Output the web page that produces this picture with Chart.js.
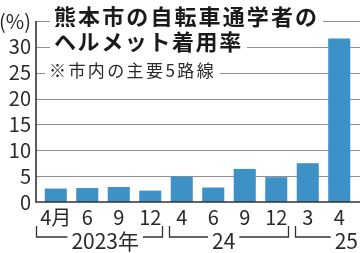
<!DOCTYPE html>
<html lang="ja">
<head>
<meta charset="utf-8">
<script src="https://cdn.jsdelivr.net/npm/chart.js@4/dist/chart.umd.min.js"></script>
<style>
  html, body { margin: 0; padding: 0; background: #fff; }
  #wrap { position: relative; width: 360px; height: 253px; overflow: hidden; }
  canvas { position: absolute; left: 0; top: 0; }
  .t { position: absolute; background: #fff; color: #1a1a1a; white-space: nowrap;
       font-family: "Noto Sans CJK JP", sans-serif; padding: 0 4px; }
  #t1 { left: 50px; top: 2px; font-size: 22px; line-height: 26px; font-weight: 700; letter-spacing: 2.1px; }
  #t2 { left: 50px; top: 27px; font-size: 22px; line-height: 26px; font-weight: 700; letter-spacing: 1.6px; }
  #t3 { left: 45px; top: 59px; font-size: 17px; line-height: 22px; font-weight: 400; letter-spacing: 2.4px; color: #2a2a2a; }
</style>
</head>
<body>
<div id="wrap">
  <canvas id="c" width="360" height="253"></canvas>
  <div class="t" id="t1">熊本市の自転車通学者の</div>
  <div class="t" id="t2">ヘルメット着用率</div>
  <div class="t" id="t3">※市内の主要5路線</div>
</div>
<script>
// ---- data ----
const categories = ["4月", "6", "9", "12", "4", "6", "9", "12", "3", "4"];
const helmetRate = [2.6, 2.7, 2.9, 2.2, 4.9, 2.8, 6.4, 4.8, 7.5, 31.6];
const yearLabels = ["2023年", "24", "25"];
const yearStartIndex = [0, 4, 8];
const yTicks = [0, 5, 10, 15, 20, 25, 30, 35];
const yTopLabel = "(%)";

const FONT = '"Noto Sans CJK JP", sans-serif';
const BAR = '#3d91c6';
const GRID = '#8f8f8f';
const AXIS = '#333333';
const TXT = '#2a2a2a';

const framePlugin = {
  id: 'frame',
  beforeDatasetsDraw(chart) {
    const { ctx, chartArea, scales: { y } } = chart;
    const axisX = chartArea.left - 4;
    ctx.save();
    ctx.strokeStyle = GRID;
    ctx.lineWidth = 1;
    yTicks.forEach(v => {
      if (v === 0) return;
      const py = Math.round(y.getPixelForValue(v)) + 0.5;
      ctx.beginPath();
      ctx.moveTo(axisX, py);
      ctx.lineTo(360, py);
      ctx.stroke();
    });
    ctx.restore();
  },
  afterDatasetsDraw(chart) {
    const { ctx, chartArea, scales: { x, y } } = chart;
    const axisX = chartArea.left - 4;
    const y0 = y.getPixelForValue(0);
    const yTop = y.getPixelForValue(35);
    ctx.save();
    ctx.strokeStyle = AXIS;
    ctx.lineWidth = 1.6;
    ctx.beginPath();
    ctx.moveTo(axisX, yTop);
    ctx.lineTo(axisX, y0);
    ctx.lineTo(360, y0);
    ctx.stroke();

    // year group brackets
    const half = (x.getPixelForValue(1) - x.getPixelForValue(0)) / 2;
    const anchors = [1.57, 5.33, 9.25];
    const vTop = y0 + 24, hY = y0 + 35, textY = y0 + 39;
    ctx.font = '21px ' + FONT;
    ctx.textBaseline = 'middle';
    ctx.fillStyle = TXT;
    ctx.lineWidth = 1.3;
    ctx.strokeStyle = '#333';
    yearLabels.forEach((lab, g) => {
      const s = yearStartIndex[g];
      const e = g + 1 < yearStartIndex.length ? yearStartIndex[g + 1] - 1 : categories.length - 1;
      const left = g === 0 ? axisX + 0.5 : x.getPixelForValue(s) - half + 3.5;
      const hasRight = g + 1 < yearStartIndex.length;
      const right = hasRight ? x.getPixelForValue(e) + half - 3.5 : 360;
      const w = ctx.measureText(lab).width;
      let cx = x.getPixelForValue(anchors[g]);
      if (!hasRight) cx = Math.min(cx, 358 - w / 2);
      ctx.textAlign = 'center';
      ctx.fillText(lab, cx, textY);
      ctx.beginPath();
      ctx.moveTo(left, vTop);
      ctx.lineTo(left, hY);
      ctx.lineTo(cx - w / 2 - 4, hY);
      if (hasRight) {
        ctx.moveTo(cx + w / 2 + 4, hY);
        ctx.lineTo(right, hY);
        ctx.lineTo(right, vTop);
      }
      ctx.stroke();
    });
    ctx.restore();
  }
};

new Chart(document.getElementById('c'), {
  type: 'bar',
  data: {
    labels: categories,
    datasets: [{
      data: helmetRate,
      backgroundColor: BAR,
      borderWidth: 0,
      barPercentage: 0.7,
      categoryPercentage: 1.0
    }]
  },
  options: {
    responsive: false,
    animation: false,
    devicePixelRatio: 1,
    layout: { padding: { top: 16.5, right: 5, bottom: 0, left: 0 } },
    plugins: { legend: { display: false }, tooltip: { enabled: false } },
    scales: {
      x: {
        grid: { display: false, drawTicks: false },
        border: { display: false },
        ticks: { color: TXT, font: { family: FONT, size: 20 }, padding: 3, maxRotation: 0, autoSkip: false },
        afterFit(s) { s.height = 51; }
      },
      y: {
        min: 0, max: 35,
        grid: { display: false, drawTicks: false },
        border: { display: false },
        afterBuildTicks(s) { s.ticks = yTicks.map(v => ({ value: v })); },
        ticks: {
          color: TXT, font: { family: FONT, size: 20 }, padding: 9, autoSkip: false,
          callback: v => (v === 35 ? yTopLabel : String(v))
        },
        afterFit(s) { s.width = 40; }
      }
    }
  },
  plugins: [framePlugin]
});
</script>
</body>
</html>
